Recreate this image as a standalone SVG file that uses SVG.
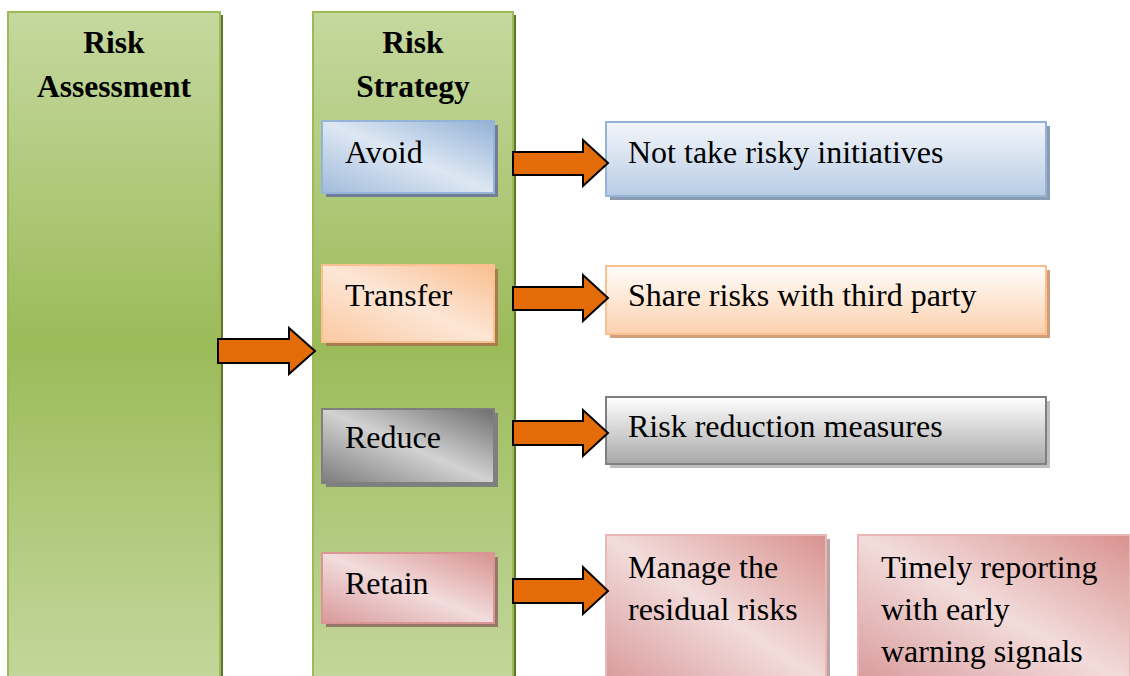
<svg xmlns="http://www.w3.org/2000/svg" width="1130" height="676" viewBox="0 0 1130 676">
  <defs>
    <!-- column fill: light at the ends, deeper green in the middle -->
    <linearGradient id="gCol" gradientUnits="userSpaceOnUse" x1="0" y1="12" x2="0" y2="676">
      <stop offset="0" stop-color="#c5d89f"/>
      <stop offset="0.5" stop-color="#9bbb59"/>
      <stop offset="1" stop-color="#c3d69b"/>
    </linearGradient>
    <!-- diagonal sheen fills for the strategy boxes -->
    <linearGradient id="gBlue" x1="1" y1="0" x2="0" y2="1">
      <stop offset="0" stop-color="#93b1d6"/>
      <stop offset="0.5" stop-color="#dde7f3"/>
      <stop offset="1" stop-color="#a2bbdb"/>
    </linearGradient>
    <linearGradient id="gPeach" x1="1" y1="0" x2="0" y2="1">
      <stop offset="0" stop-color="#f9be8e"/>
      <stop offset="0.5" stop-color="#fde6d6"/>
      <stop offset="1" stop-color="#fbc9a2"/>
    </linearGradient>
    <linearGradient id="gGray" x1="1" y1="0" x2="0" y2="1">
      <stop offset="0" stop-color="#6e6e6e"/>
      <stop offset="0.5" stop-color="#d2d2d2"/>
      <stop offset="1" stop-color="#7c7c7c"/>
    </linearGradient>
    <linearGradient id="gPink" x1="1" y1="0" x2="0" y2="1">
      <stop offset="0" stop-color="#d8928f"/>
      <stop offset="0.5" stop-color="#f2dcdc"/>
      <stop offset="1" stop-color="#d9999a"/>
    </linearGradient>
    <!-- vertical fills for the outcome boxes -->
    <linearGradient id="gBlueV" x1="0" y1="0" x2="0" y2="1">
      <stop offset="0" stop-color="#f3f6fb"/>
      <stop offset="1" stop-color="#b8cce4"/>
    </linearGradient>
    <linearGradient id="gPeachV" x1="0" y1="0" x2="0" y2="1">
      <stop offset="0" stop-color="#fffdfb"/>
      <stop offset="1" stop-color="#fcd1ae"/>
    </linearGradient>
    <linearGradient id="gGrayV" x1="0" y1="0" x2="0" y2="1">
      <stop offset="0" stop-color="#ffffff"/>
      <stop offset="1" stop-color="#a8a8a8"/>
    </linearGradient>
    <linearGradient id="gPinkD" x1="1" y1="0" x2="0" y2="1">
      <stop offset="0" stop-color="#d9928f"/>
      <stop offset="0.5" stop-color="#f2dcdb"/>
      <stop offset="1" stop-color="#d9999a"/>
    </linearGradient>
  </defs>
  <style>
    text { font-family: "Liberation Serif", "Times New Roman", serif; font-size: 32px; fill: #000; }
    .head { font-weight: bold; font-size: 31.5px; text-anchor: middle; }
    .col { fill: url(#gCol); stroke: #9bbb59; stroke-width: 2; }
    .colShadow { fill: #5f7530; }
    .arrow { fill: #e36c09; stroke: #000; stroke-width: 2; stroke-linejoin: miter; }
    .box { stroke-width: 2; }
  </style>

  <rect width="1130" height="676" fill="#ffffff"/>

  <!-- Risk Assessment column -->
  <g id="risk-assessment">
    <rect class="colShadow" x="11" y="15" width="212" height="670"/>
    <rect class="col" x="8" y="12" width="212" height="670"/>
    <text class="head" x="114" y="53">Risk</text>
    <text class="head" x="114" y="97">Assessment</text>
  </g>

  <!-- Risk Strategy column -->
  <g id="risk-strategy">
    <rect class="colShadow" x="316" y="15" width="200" height="670"/>
    <rect class="col" x="313" y="12" width="200" height="670"/>
    <text class="head" x="413" y="53">Risk</text>
    <text class="head" x="413" y="97">Strategy</text>
  </g>

  <!-- strategy options -->
  <g id="avoid">
    <rect x="326" y="125" width="172" height="72" fill="#6f7f95"/>
    <rect class="box" x="322" y="121" width="172" height="72" fill="url(#gBlue)" stroke="#95b3d7"/>
    <text x="345" y="163">Avoid</text>
  </g>
  <g id="transfer">
    <rect x="326" y="269" width="172" height="77" fill="#a67c4f"/>
    <rect class="box" x="322" y="265" width="172" height="77" fill="url(#gPeach)" stroke="#fac090"/>
    <text x="345" y="306">Transfer</text>
  </g>
  <g id="reduce">
    <rect x="326" y="413" width="172" height="74" fill="#7f7f7f"/>
    <rect class="box" x="322" y="409" width="172" height="74" fill="url(#gGray)" stroke="#7f7f7f"/>
    <text x="345" y="448">Reduce</text>
  </g>
  <g id="retain">
    <rect x="326" y="557" width="172" height="70" fill="#957868"/>
    <rect class="box" x="322" y="553" width="172" height="70" fill="url(#gPink)" stroke="#d99694"/>
    <text x="345" y="594">Retain</text>
  </g>

  <!-- outcomes -->
  <g id="not-take-risky">
    <rect x="610" y="126" width="440" height="74" fill="#8a9bb2"/>
    <rect class="box" x="606" y="122" width="440" height="74" fill="url(#gBlueV)" stroke="#95b3d7"/>
    <text x="628" y="163">Not take risky initiatives</text>
  </g>
  <g id="share-risks">
    <rect x="610" y="270" width="440" height="68" fill="#cf9f7c"/>
    <rect class="box" x="606" y="266" width="440" height="68" fill="url(#gPeachV)" stroke="#fac090"/>
    <text x="628" y="306">Share risks with third party</text>
  </g>
  <g id="risk-reduction">
    <rect x="610" y="401" width="440" height="67" fill="#bfbfbf"/>
    <rect class="box" x="606" y="397" width="440" height="67" fill="url(#gGrayV)" stroke="#7f7f7f"/>
    <text x="628" y="437">Risk reduction measures</text>
  </g>
  <g id="manage-residual">
    <rect x="610" y="539" width="220" height="150" fill="#b9a3a3"/>
    <rect class="box" x="606" y="535" width="220" height="150" fill="url(#gPinkD)" stroke="#e6b9b8"/>
    <text x="628" y="578">Manage the</text>
    <text x="628" y="620">residual risks</text>
  </g>
  <g id="timely-reporting">
    <rect x="862" y="539" width="272" height="150" fill="#b9a3a3"/>
    <rect class="box" x="858" y="535" width="272" height="150" fill="url(#gPinkD)" stroke="#e6b9b8"/>
    <text x="881" y="578">Timely reporting</text>
    <text x="881" y="620">with early</text>
    <text x="881" y="662">warning signals</text>
  </g>

  <!-- connectors -->
  <g id="connectors">
    <path class="arrow" d="M218,339 H289 V328 L315,351 L289,374 V363 H218 Z"/>
    <path class="arrow" d="M513,152 H583 V140 L608,163 L583,186 V175 H513 Z"/>
    <path class="arrow" d="M513,287 H583 V275 L608,298 L583,321 V310 H513 Z"/>
    <path class="arrow" d="M513,421 H583 V410 L608,433 L583,456 V445 H513 Z"/>
    <path class="arrow" d="M513,579 H583 V567 L608,591 L583,614 V603 H513 Z"/>
  </g>
</svg>
